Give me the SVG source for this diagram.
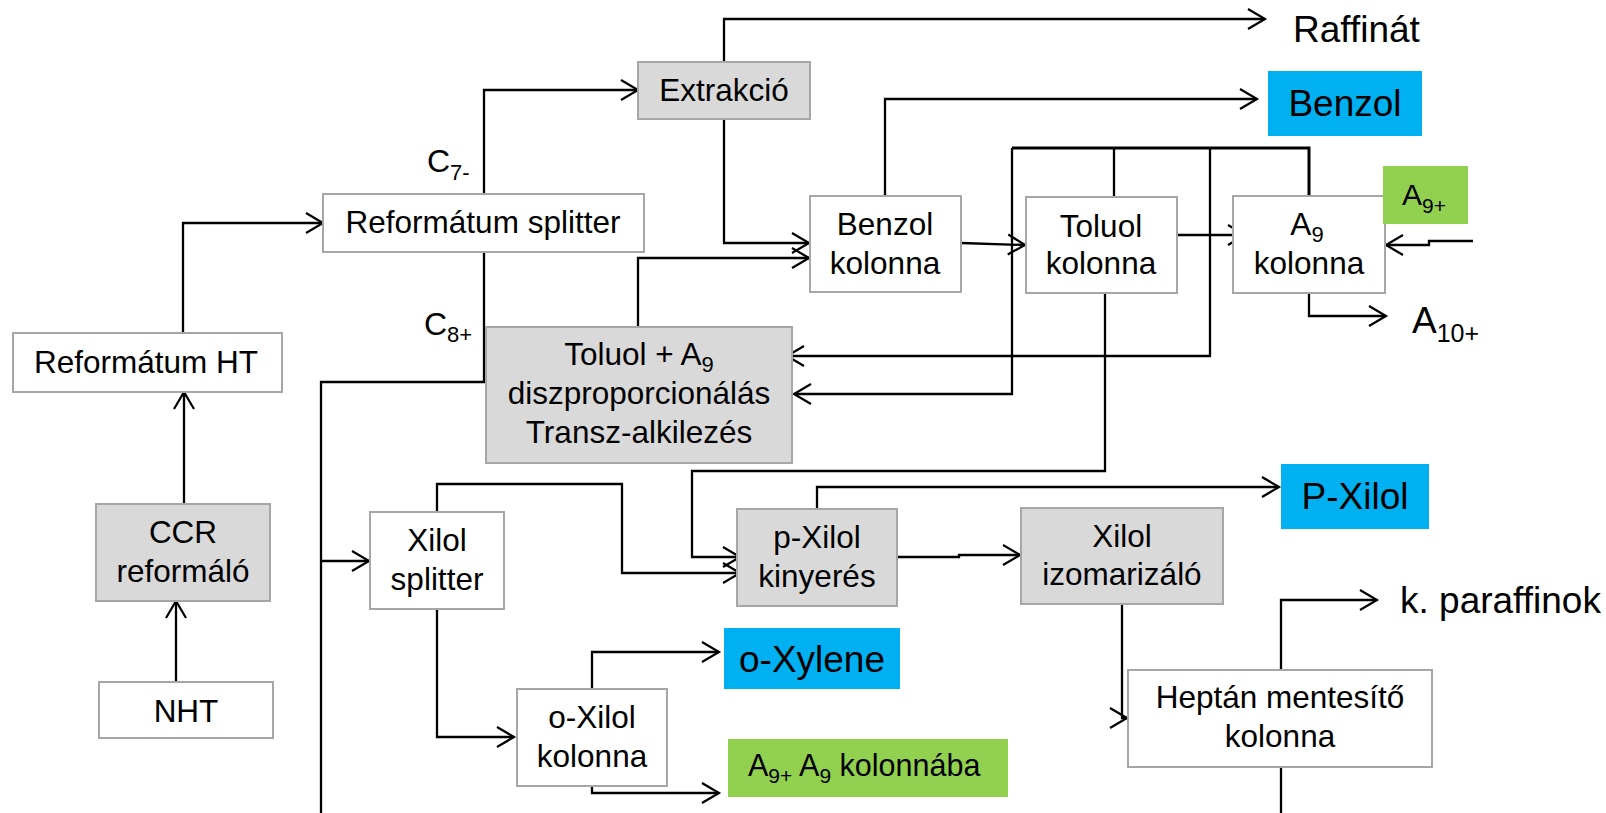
<svg xmlns="http://www.w3.org/2000/svg" width="1606" height="813" viewBox="0 0 1606 813">
<defs>
<marker id="arr" markerUnits="userSpaceOnUse" markerWidth="24" markerHeight="24" viewBox="-20 -12 24 24" refX="0" refY="0" orient="auto">
<path d="M-17,-10 L0,0 L-17,10" fill="none" stroke="#000" stroke-width="2.2"/>
</marker>
</defs>
<style>
text{font-family:"Liberation Sans",Arial,sans-serif;fill:#000}
.t{font-size:31.5px;text-anchor:middle}
.l{font-size:37px}
.lc{font-size:37px;text-anchor:middle}
.box{fill:#fff;stroke:#a6a6a6;stroke-width:2}
.gbox{fill:#d9d9d9;stroke:#a6a6a6;stroke-width:2}
.blue{fill:#00b0f0}
.green{fill:#92d050}
.c path{fill:none;stroke:#000;stroke-width:2.3}
.c .a{marker-end:url(#arr)}
.c .thick{stroke-width:3}
</style>
<rect width="1606" height="813" fill="#fff"/>
<g id="connectors" class="c">
<path class="a" d="M724,62 V19 H1265"/>
<path class="a" d="M484,194 V90 H638"/>
<path class="a" d="M183,333 V223 H323"/>
<path class="a" d="M184,504 V392"/>
<path class="a" d="M176,682 V601"/>
<path d="M484,252 V382 H321 V813"/>
<path class="a" d="M321,561 H369"/>
<path class="a" d="M724,120 V243 H809"/>
<path class="a" d="M638,327 V258 H809"/>
<path class="a" d="M885,196 V99 H1257"/>
<path class="a" d="M961,243 L1025,245"/>
<path class="a" d="M1169,235 H1245"/>
<path class="thick" d="M1309,196 V148 H1012"/>
<path class="a" d="M1012,148 V394 H794"/>
<path d="M1114,197 V148"/>
<path class="a" d="M1210,148 V356 H787"/>
<path class="a" d="M1473,241 H1429 V245 H1386"/>
<path class="a" d="M1309,293 V316 H1386"/>
<path class="a" d="M1105,293 V471 H692 V557 H740"/>
<path class="a" d="M437,512 V484 H622 V573 H740"/>
<path class="a" d="M437,609 V737 H514"/>
<path class="a" d="M592,689 V652 H719"/>
<path class="a" d="M592,786 V793 H719"/>
<path class="a" d="M817,509 V487 H1279"/>
<path class="a" d="M897,557 H959 V555 H1020"/>
<path class="a" d="M1122,604 V718 H1127"/>
<path class="a" d="M1281,670 V600 H1377"/>
<path d="M1281,767 V813"/>
</g>
<g id="extrakcio"><rect class="gbox" x="638" y="62" width="172" height="57"/><text class="t" x="724" y="101">Extrakció</text></g>
<g id="reformatum-splitter"><rect class="box" x="323" y="194" width="321" height="58"/><text class="t" x="483" y="233">Reformátum splitter</text></g>
<g id="reformatum-ht"><rect class="box" x="13" y="333" width="269" height="59"/><text class="t" x="146" y="373">Reformátum HT</text></g>
<g id="ccr"><rect class="gbox" x="96" y="504" width="174" height="97"/><text class="t" x="183" y="543">CCR</text><text class="t" x="183" y="582">reformáló</text></g>
<g id="nht"><rect class="box" x="99" y="682" width="174" height="56"/><text class="t" x="186" y="722">NHT</text></g>
<g id="toluol-a9"><rect class="gbox" x="486" y="327" width="306" height="136"/><text class="t" x="639" y="365">Toluol + A<tspan font-size="22" dy="7">9</tspan></text><text class="t" x="639" y="404">diszproporcionálás</text><text class="t" x="639" y="443">Transz-alkilezés</text></g>
<g id="benzol-kolonna"><rect class="box" x="810" y="196" width="151" height="96"/><text class="t" x="885" y="235">Benzol</text><text class="t" x="885" y="274">kolonna</text></g>
<g id="toluol-kolonna"><rect class="box" x="1026" y="197" width="151" height="96"/><text class="t" x="1101" y="237">Toluol</text><text class="t" x="1101" y="274">kolonna</text></g>
<g id="a9-kolonna"><rect class="box" x="1233" y="196" width="152" height="97"/><text class="t" x="1307" y="235">A<tspan font-size="22" dy="7">9</tspan></text><text class="t" x="1309" y="274">kolonna</text></g>
<g id="xilol-splitter"><rect class="box" x="370" y="512" width="134" height="97"/><text class="t" x="437" y="551">Xilol</text><text class="t" x="437" y="590">splitter</text></g>
<g id="p-xilol-kinyeres"><rect class="gbox" x="737" y="509" width="160" height="97"/><text class="t" x="817" y="548">p-Xilol</text><text class="t" x="817" y="587">kinyerés</text></g>
<g id="xilol-izomarizalo"><rect class="gbox" x="1021" y="508" width="202" height="96"/><text class="t" x="1122" y="547">Xilol</text><text class="t" x="1122" y="585">izomarizáló</text></g>
<g id="o-xilol-kolonna"><rect class="box" x="517" y="689" width="150" height="97"/><text class="t" x="592" y="728">o-Xilol</text><text class="t" x="592" y="767">kolonna</text></g>
<g id="heptan"><rect class="box" x="1128" y="670" width="304" height="97"/><text class="t" x="1280" y="708">Heptán mentesítő</text><text class="t" x="1280" y="747">kolonna</text></g>
<g id="benzol-out"><rect class="blue" x="1268" y="71" width="154" height="65"/><text class="lc" x="1345" y="116">Benzol</text></g>
<g id="pxilol-out"><rect class="blue" x="1281" y="464" width="148" height="65"/><text class="lc" x="1355" y="509">P-Xilol</text></g>
<g id="oxylene-out"><rect class="blue" x="724" y="628" width="176" height="61"/><text class="lc" x="812" y="672">o-Xylene</text></g>
<g id="a9plus"><rect class="green" x="1383" y="166" width="85" height="58"/><text x="1402" y="205" font-size="30">A<tspan font-size="21" dy="8">9+</tspan></text></g>
<g id="a9-kolonnaba"><rect class="green" x="728" y="739" width="280" height="58"/><text x="748" y="776" font-size="30.5">A<tspan font-size="21" dy="7">9+</tspan><tspan dy="-7"> A</tspan><tspan font-size="21" dy="7">9</tspan><tspan dy="-7"> kolonnába</tspan></text></g>
<g id="raffinat"><text class="l" x="1293" y="42">Raffinát</text></g>
<g id="a10plus"><text class="l" x="1412" y="333">A<tspan font-size="25" dy="9">10+</tspan></text></g>
<g id="k-paraffinok"><text class="l" x="1400" y="613">k. paraffinok</text></g>
<g id="c7"><text x="427" y="172" font-size="32">C<tspan font-size="22" dy="8">7-</tspan></text></g>
<g id="c8"><text x="424" y="335" font-size="32">C<tspan font-size="22" dy="7">8+</tspan></text></g>
</svg>
